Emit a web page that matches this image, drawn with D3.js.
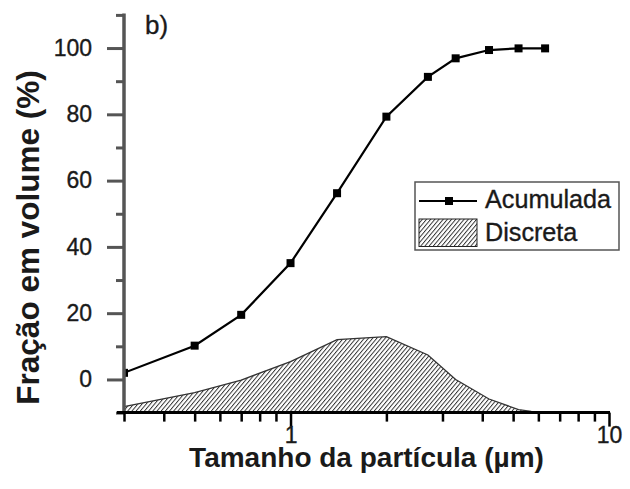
<!DOCTYPE html>
<html>
<head>
<meta charset="utf-8">
<script src="https://cdn.jsdelivr.net/npm/d3@7"></script>
<style>
  html, body { margin: 0; padding: 0; background: #fff; }
  svg { display: block; font-family: "Liberation Sans", Arial, sans-serif; }
</style>
</head>
<body>
<svg id="chart" width="630" height="489"></svg>
<script>
// ---- data ----
const sizesAcum = [0.3, 0.5, 0.7, 1.0, 1.4, 2.0, 2.7, 3.3, 4.2, 5.2, 6.3];
const valuesAcum = [2.0, 10.2, 19.5, 35.1, 56.2, 79.3, 91.3, 96.9, 99.4, 99.9, 99.9];
const sizesDisc = [0.3, 0.5, 0.7, 1.0, 1.4, 2.0, 2.7, 3.3, 4.2, 5.2, 5.7];
const valuesDisc = [-8.2, -4.0, -0.2, 5.4, 12.0, 12.9, 7.4, 0.0, -5.9, -9.1, -9.6];
const yTickLabels = [0, 20, 40, 60, 80, 100];
const yMinorTicks = [-10, 10, 30, 50, 70, 90, 110];
const xMajorTicks = [1, 10];
const xMinorTicks = [0.3, 0.4, 0.5, 0.6, 0.7, 0.8, 0.9, 2, 3, 4, 5, 6, 7, 8, 9];
const seriesNames = ["Acumulada", "Discreta"];
const xTitle = "Tamanho da partícula (µm)";
const yTitle = "Fração em volume (%)";
const panelLabel = "b)";

// ---- layout ----
const svg = d3.select("#chart");
const x = d3.scaleLog().domain([0.3, 10]).range([124, 609]);
const y = d3.scaleLinear().domain([-10, 110]).range([412.6, 14.9]);
const FONT = "Liberation Sans, Arial, sans-serif";
const TXT = "#1a1a1a";

// hatch pattern
const defs = svg.append("defs");
const pat = defs.append("pattern")
  .attr("id", "hatch").attr("patternUnits", "userSpaceOnUse")
  .attr("width", 3.2).attr("height", 10)
  .attr("patternTransform", "rotate(40)");
pat.append("line").attr("x1", 0.5).attr("y1", 0).attr("x2", 0.5).attr("y2", 10)
  .attr("stroke", "#222").attr("stroke-width", 0.9);

// discreta area
const discData = sizesDisc.map((s, i) => [s, valuesDisc[i]]);
const area = d3.area().x(d => x(d[0])).y0(y(-10)).y1(d => y(d[1]));
svg.append("path").datum(discData).attr("d", area)
  .attr("fill", "url(#hatch)").attr("stroke", "none");
svg.append("path").datum(discData)
  .attr("d", d3.line().x(d => x(d[0])).y(d => y(d[1])))
  .attr("fill", "none").attr("stroke", "#333").attr("stroke-width", 1.3);

// acumulada line
const acumData = sizesAcum.map((s, i) => [s, valuesAcum[i]]);
const clip = defs.append("clipPath").attr("id", "plotclip");
clip.append("rect").attr("x", 124).attr("y", 0).attr("width", 520).attr("height", 412);
const g = svg.append("g").attr("clip-path", "url(#plotclip)");
g.append("path").datum(acumData)
  .attr("d", d3.line().x(d => x(d[0])).y(d => y(d[1])))
  .attr("fill", "none").attr("stroke", "#000").attr("stroke-width", 2.2);
g.selectAll("rect.pt").data(acumData).enter().append("rect")
  .attr("class", "pt")
  .attr("x", d => x(d[0]) - 4).attr("y", d => y(d[1]) - 4)
  .attr("width", 8).attr("height", 8).attr("fill", "#000");

// y axis
const yAxisMajor = d3.axisLeft(y).tickValues(yTickLabels)
  .tickSize(17).tickPadding(15).tickFormat(d3.format("d"));
const yAxisMinor = d3.axisLeft(y).tickValues(yMinorTicks).tickSize(8).tickFormat("");
const ya = svg.append("g").attr("transform", "translate(124,0)");
ya.append("g").call(yAxisMinor).call(s => s.select(".domain").remove());
ya.append("g").call(yAxisMajor).call(s => s.select(".domain").remove());
ya.selectAll(".tick line").attr("stroke", "#555").attr("stroke-width", 3);
ya.selectAll(".tick text").attr("font-size", 23).attr("fill", TXT)
  .attr("font-family", FONT).attr("stroke", TXT).attr("stroke-width", 0.35);
svg.append("line").attr("x1", 124).attr("x2", 124).attr("y1", y(110) - 1.5).attr("y2", y(-10))
  .attr("stroke", "#555").attr("stroke-width", 3.5);

// x axis
const xa = svg.append("g").attr("transform", `translate(0,${y(-10)})`);
const xMinor = d3.axisBottom(x).tickValues(xMinorTicks).tickSize(9).tickFormat("");
const xMajor = d3.axisBottom(x).tickValues(xMajorTicks).tickSize(14).tickPadding(0)
  .tickFormat(d3.format("d"));
xa.append("g").call(xMinor).call(s => s.select(".domain").remove());
xa.append("g").call(xMajor).call(s => s.select(".domain").remove());
xa.selectAll(".tick line").attr("stroke", "#000").attr("stroke-width", 2.5);
xa.selectAll(".tick text").attr("font-size", 23).attr("fill", TXT)
  .attr("font-family", FONT).attr("stroke", TXT).attr("stroke-width", 0.35);
svg.append("line").attr("x1", 117).attr("x2", 610).attr("y1", y(-10)).attr("y2", y(-10))
  .attr("stroke", "#000").attr("stroke-width", 3);

// titles
svg.append("text").attr("x", 366.5).attr("y", 467).attr("text-anchor", "middle")
  .attr("font-size", 28).attr("font-weight", "bold").attr("fill", TXT).text(xTitle);
svg.append("text").attr("transform", "translate(38.5,237.5) rotate(-90)")
  .attr("text-anchor", "middle").attr("font-size", 31.5).attr("font-weight", "bold")
  .attr("fill", TXT).text(yTitle);
svg.append("text").attr("x", 145).attr("y", 34).attr("font-size", 26)
  .attr("fill", TXT).attr("stroke", TXT).attr("stroke-width", 0.35).text(panelLabel);

// legend
const lg = svg.append("g");
lg.append("rect").attr("x", 415).attr("y", 182).attr("width", 204).attr("height", 68)
  .attr("fill", "#fff").attr("stroke", "#555").attr("stroke-width", 1.5);
lg.append("line").attr("x1", 419).attr("x2", 477).attr("y1", 201).attr("y2", 201)
  .attr("stroke", "#000").attr("stroke-width", 2.2);
lg.append("rect").attr("x", 445).attr("y", 197).attr("width", 8).attr("height", 8).attr("fill", "#000");
lg.append("rect").attr("x", 419).attr("y", 219).attr("width", 58).attr("height", 27.5)
  .attr("fill", "url(#hatch)").attr("stroke", "#222").attr("stroke-width", 1);
lg.append("text").attr("x", 485).attr("y", 207.5).attr("font-size", 25.2).attr("fill", TXT)
  .attr("stroke", TXT).attr("stroke-width", 0.35).text(seriesNames[0]);
lg.append("text").attr("x", 485).attr("y", 240.5).attr("font-size", 25.2).attr("fill", TXT)
  .attr("stroke", TXT).attr("stroke-width", 0.35).text(seriesNames[1]);
</script>
</body>
</html>
